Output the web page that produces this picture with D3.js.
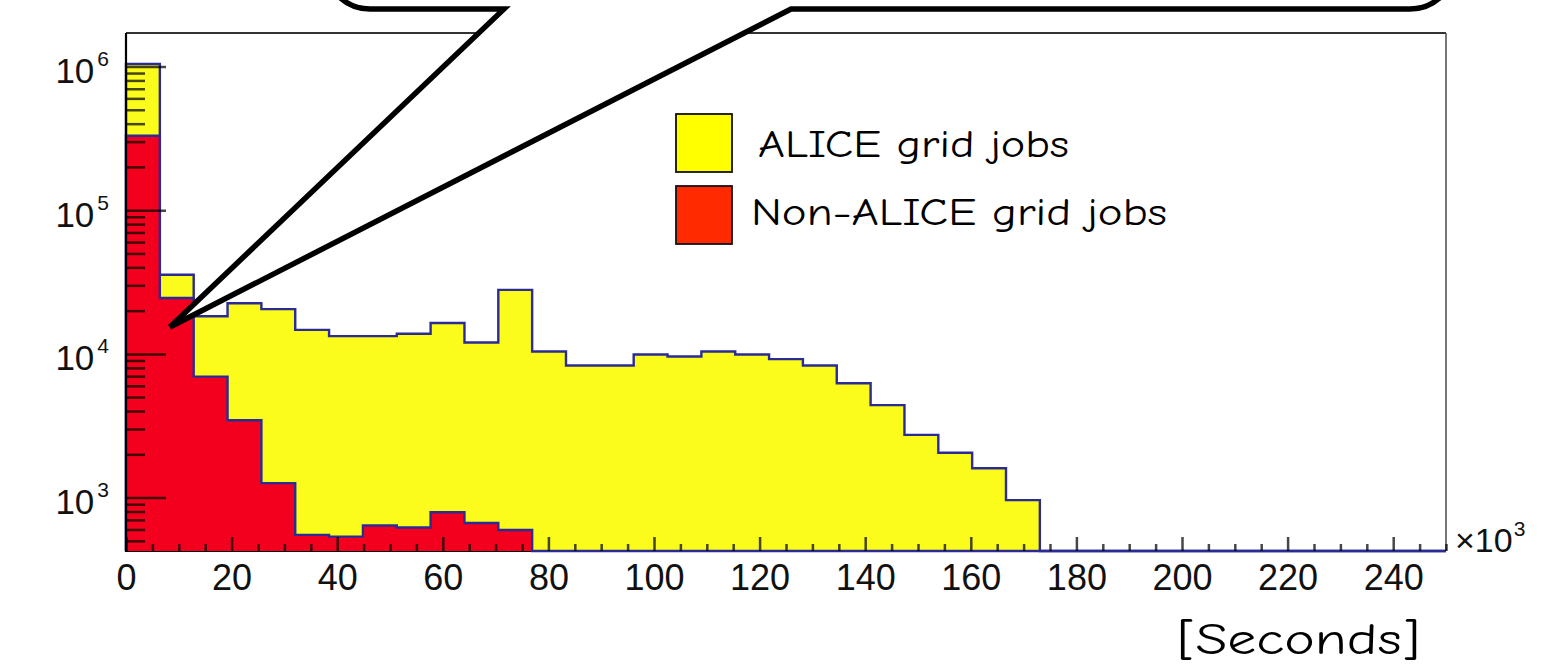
<!DOCTYPE html>
<html><head><meta charset="utf-8">
<script src="https://cdn.jsdelivr.net/npm/d3@7"></script>
<style>body{margin:0;background:#fff;} svg{display:block;}</style>
</head><body>
<svg id="c" width="1541" height="665"></svg>
<script>
// ---------------- data ----------------
const nBins = 39;               // histogram bins over [0, 250] (x10^3 s)
const xRange = [0, 250];
// ALICE grid jobs (yellow), bin contents
const aliceJobs = [1040000, 35500, 18300, 22500, 20500, 14700, 13300, 13300, 13800, 16400,
                   12000, 27900, 10400, 8300, 8300, 9900, 9600, 10400, 9900, 9200,
                   8300, 6250, 4400, 2730, 2050, 1600, 960];
// Non-ALICE grid jobs (red)
const nonAliceJobs = [330000, 24500, 6950, 3450, 1260, 550, 535, 640, 620, 790, 665, 595];
const xTickLabels = [0, 20, 40, 60, 80, 100, 120, 140, 160, 180, 200, 220, 240];
const yDecadeExponents = [3, 4, 5, 6];
const legendLabels = ["ALICE grid jobs", "Non-ALICE grid jobs"];
const xUnitLabel = "[Seconds]";

(function () {
// ---------------- setup ----------------
const svg = d3.select("#c");
const pL = 126, pR = 1446, pT = 33, pB = 551;
const x = d3.scaleLinear().domain(xRange).range([pL, pR]);
const y = d3.scaleLog().domain([425, 1.71e6]).range([pB, pT]);
const bw = (xRange[1] - xRange[0]) / nBins;

const yellow = "#fbfb1c", red = "#f3001f", outline = "#2b2b96";

// frame
svg.append("line").attr("x1", pL).attr("x2", pR).attr("y1", pT).attr("y2", pT)
  .attr("stroke", "#333").attr("stroke-width", 2);
svg.append("line").attr("x1", pR).attr("x2", pR).attr("y1", pT).attr("y2", pB)
  .attr("stroke", "#555").attr("stroke-width", 1.6);
svg.append("line").attr("x1", pL).attr("x2", pR).attr("y1", pB).attr("y2", pB)
  .attr("stroke", "#000").attr("stroke-width", 2);

function binPoints(vals) {
  const pts = [];
  for (let i = 0; i < nBins; i++) {
    const v = vals[i] || 0;
    const yy = v > 0 ? y(Math.max(v, y.domain()[0])) : pB;
    pts.push([x(i * bw), yy]);
    pts.push([x((i + 1) * bw), yy]);
  }
  return pts;
}
function drawHist(vals, fill) {
  const pts = binPoints(vals);
  const area = d3.area().x(d => d[0]).y0(pB).y1(d => d[1]);
  svg.append("path").attr("d", area(pts)).attr("fill", fill).attr("stroke", "none");
  const line = d3.line();
  const full = [[x(0), pB], ...pts, [x(nBins * bw), pB]];
  svg.append("path").attr("d", line(full)).attr("fill", "none")
    .attr("stroke", outline).attr("stroke-width", 2.4).attr("stroke-linejoin", "miter");
}
drawHist(aliceJobs, yellow);
drawHist(nonAliceJobs, red);

// ---------------- axes ----------------
const tickCol = "rgba(0,0,0,0.72)";
const gx = svg.append("g").attr("transform", `translate(0,${pB})`)
  .call(d3.axisBottom(x).tickValues(xTickLabels).tickSize(-14).tickFormat(d3.format("d")));
const xMinor = d3.range(0, 251, 5).filter(v => v % 20 !== 0);
const gxm = svg.append("g").attr("transform", `translate(0,${pB})`)
  .call(d3.axisBottom(x).tickValues(xMinor).tickSize(-7).tickFormat(""));
[gx, gxm].forEach(g => {
  g.select(".domain").remove();
  g.selectAll(".tick line").attr("stroke", tickCol).attr("stroke-width", 2.5);
});
gx.selectAll(".tick text").attr("y", 39).attr("dy", 0)
  .attr("font-family", "'Liberation Sans', Arial, Helvetica, sans-serif")
  .attr("font-size", 36).attr("fill", "#111");

const yMajor = yDecadeExponents.map(e => Math.pow(10, e));
const gy = svg.append("g").attr("transform", `translate(${pL},0)`)
  .call(d3.axisLeft(y).tickValues(yMajor).tickSize(-40).tickFormat(""));
const yMinor = [];
[2, 3, 4, 5, 6].forEach(e => { for (let m = 2; m <= 9; m++) { const v = m * Math.pow(10, e); if (v >= y.domain()[0] && v <= y.domain()[1]) yMinor.push(v); } });
const gym = svg.append("g").attr("transform", `translate(${pL},0)`)
  .call(d3.axisLeft(y).tickValues(yMinor).tickSize(-19).tickFormat(""));
[gy, gym].forEach(g => {
  g.select(".domain").remove();
  g.selectAll(".tick line").attr("stroke", tickCol).attr("stroke-width", 2.5);
});
gy.selectAll(".tick").each(function (d) {
  const t = d3.select(this).append("text")
    .attr("x", -17).attr("y", 16).attr("text-anchor", "end")
    .attr("font-family", "'Liberation Sans', Arial, Helvetica, sans-serif")
    .attr("fill", "#111").attr("font-size", 35);
  t.append("tspan").text("10");
  t.append("tspan").attr("dx", 3).attr("dy", -17).attr("font-size", 21)
    .text(String(Math.round(Math.log10(d))));
});
svg.append("line").attr("x1", pL).attr("x2", pL).attr("y1", pT).attr("y2", pB + 1)
  .attr("stroke", "#000").attr("stroke-width", 2.2);

// x10^3 multiplier
const mult = svg.append("text").attr("x", 1455).attr("y", 552)
  .attr("font-family", "'Liberation Sans', Arial, Helvetica, sans-serif")
  .attr("font-size", 34).attr("fill", "#111");
mult.append("tspan").text("\u00d710");
mult.append("tspan").attr("dx", 1).attr("dy", -16).attr("font-size", 21).text("3");

// x unit label
svg.append("text").attr("x", 1177).attr("y", 654)
  .attr("font-family", "'Comic Sans MS','Comic Neue','Noto Sans',sans-serif")
  .attr("font-size", 44).attr("fill", "#000")
  .attr("textLength", 243).attr("lengthAdjust", "spacingAndGlyphs")
  .text(xUnitLabel);

// ---------------- legend ----------------
const legendFill = ["#ffff00", "#ff2a00"];
const legendRows = [
  { y0: 114, textX: 758, base: 157, len: 311 },
  { y0: 186, textX: 751, base: 225, len: 416 }
];
legendLabels.forEach((lab, i) => {
  const r = legendRows[i];
  svg.append("rect").attr("x", 676).attr("y", r.y0).attr("width", 56).attr("height", 58)
    .attr("fill", legendFill[i]).attr("stroke", "#111").attr("stroke-width", 1.8);
  svg.append("text").attr("x", r.textX).attr("y", r.base)
    .attr("font-family", "'Comic Sans MS','Comic Neue','Noto Sans',sans-serif")
    .attr("font-size", 38).attr("fill", "#000")
    .attr("textLength", r.len).attr("lengthAdjust", "spacingAndGlyphs")
    .text(lab);
});

// ---------------- callout bubble ----------------
const L = 325, R = 1455, B = 9, rad = 45, T = -120;
const tip = [170, 327];
const p = d3.path();
p.moveTo(L, T);
p.lineTo(L, B - rad);
p.arcTo(L, B, L + rad, B, rad);
p.lineTo(504, B);
p.lineTo(tip[0], tip[1]);
p.lineTo(791, B);
p.lineTo(R - rad, B);
p.arcTo(R, B, R, B - rad, rad);
p.lineTo(R, T);
p.closePath();
svg.append("path").attr("d", p.toString()).attr("fill", "#fff")
  .attr("stroke", "#000").attr("stroke-width", 5.5)
  .attr("stroke-linejoin", "miter").attr("stroke-miterlimit", 3);
})();
</script>
</body></html>
